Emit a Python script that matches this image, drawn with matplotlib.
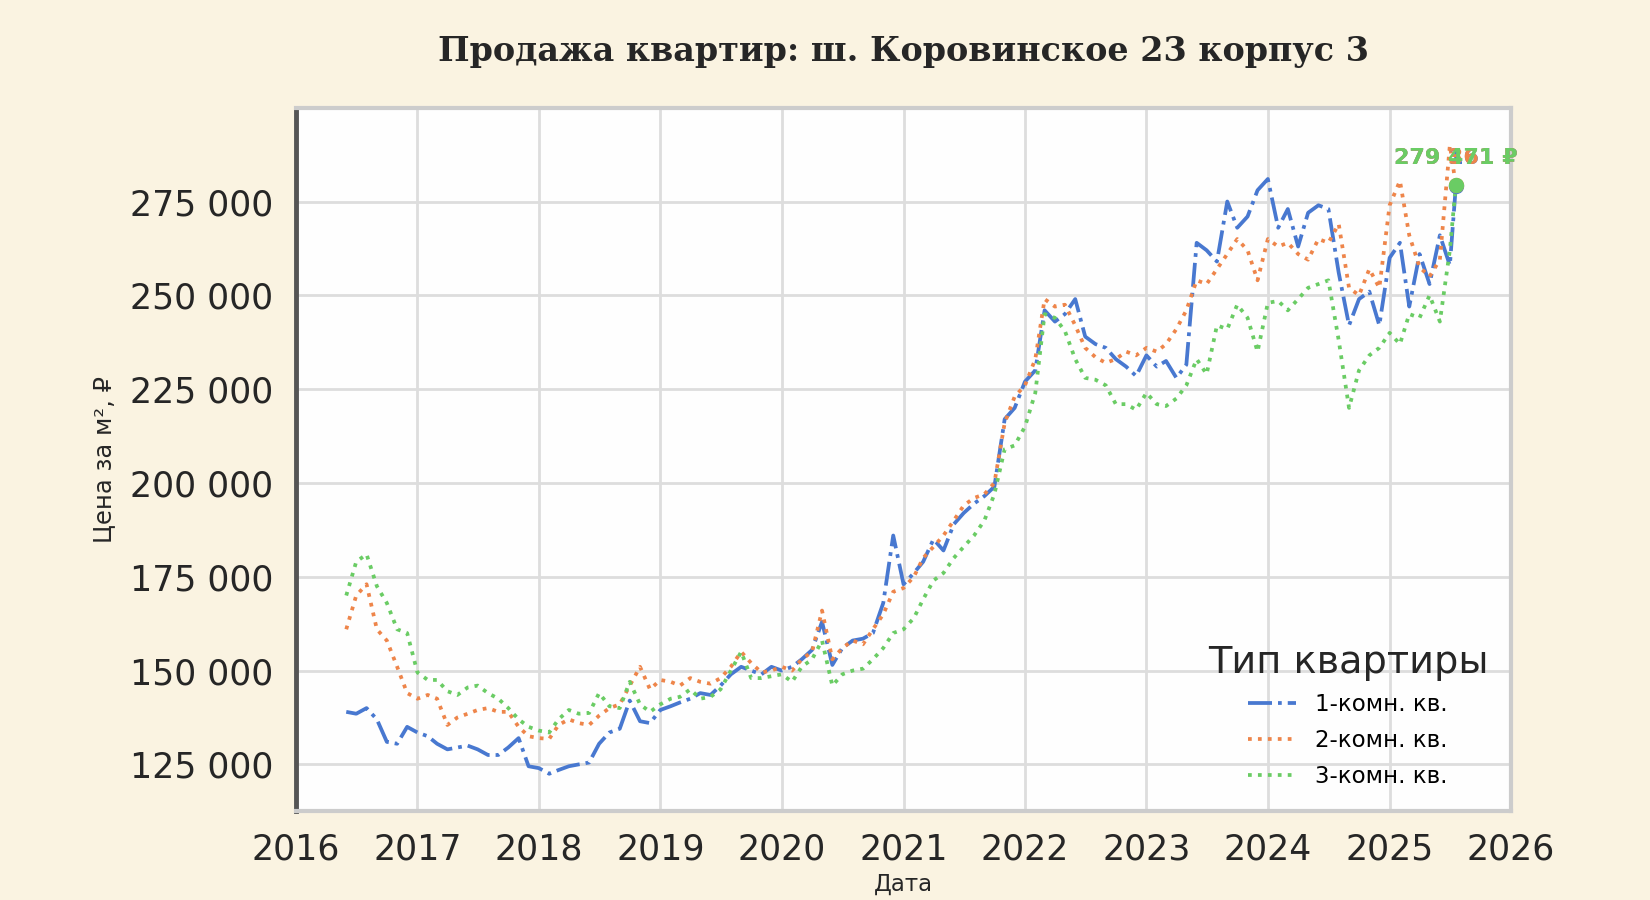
import numpy as np
import pandas as pd
import matplotlib
matplotlib.use("Agg")
import matplotlib.pyplot as plt
import matplotlib.dates as mdates
from matplotlib.ticker import FuncFormatter, MultipleLocator

# === Data (price per m2, thousands of rubles, monthly) ===

# months from Jun 2016 to Jul 2025, plus the last observation
months = list(pd.date_range("2016-06-01", "2025-07-01", freq="MS"))
last_day = pd.Timestamp("2025-07-19")

one_room = [
    139, 138.5, 140, 137, 131, 130.5, 135,                                 # 2016
    133.5, 132.5, 130.5, 129, 129.5, 130, 129, 127.5, 127.5, 129.5, 132, 124.5,  # 2017
    124, 122.5, 123.5, 124.5, 125, 125.5, 130.5, 133.5, 134.5, 142, 136.5, 136,  # 2018
    139.5, 140.5, 141.5, 142.5, 144, 143.5, 146, 149, 151, 150, 149, 151,  # 2019
    150, 151, 153, 155.5, 163, 151.5, 156, 158, 158.5, 160, 168, 186,      # 2020
    173, 176, 179, 185, 182, 189, 192, 194.5, 196.5, 199, 217, 220,        # 2021
    227, 230, 246, 243, 245, 249, 239, 237, 236, 233, 231, 228.5,          # 2022
    234, 231, 232.5, 228, 231.5, 264, 262, 259, 275, 268, 271, 278,        # 2023
    281, 268, 273, 263, 272, 274, 273, 256, 242, 249, 251, 242,            # 2024
    260, 264, 247, 261, 253, 266, 258,                                     # 2025
]
two_room = [
    161, 170, 173, 161, 158, 151, 144,
    142.5, 143.5, 142.5, 135.5, 137.5, 138.5, 139.5, 140, 139, 139, 135, 132.5,
    132, 131.8, 135.5, 137, 136, 135.5, 138, 140, 141, 146, 151, 145,
    147.5, 147, 146, 148, 147, 146.5, 148, 151, 155, 152, 149.5, 150,
    151, 150, 153, 155, 166, 153, 156, 158, 157, 161, 165, 171,
    172, 175, 180, 183, 186, 190, 194, 196, 197, 200, 216, 223,
    226, 233, 249, 247, 247.5, 242, 236, 233.5, 232, 233, 235, 234,
    236, 235, 237, 241, 246, 254, 253, 257, 261, 265, 262, 254,
    265, 263, 264, 261, 259.5, 265, 264, 269, 252, 250, 257, 252,
    274, 280.5, 266, 257.5, 255, 259.5, 290,
]
three_room = [
    170, 179, 181, 172.5, 168, 161, 160,
    149.5, 147.5, 147.5, 144.5, 143.5, 145.5, 146, 144, 142.5, 140, 137, 135,
    134, 133.5, 137, 139.5, 138.5, 138.7, 144, 140.5, 140, 147, 141, 139,
    141, 142.5, 143, 145, 142.5, 143, 145, 150, 155, 148, 148, 148.5,
    149, 147, 151, 153, 158, 146, 149, 150, 150.5, 153, 156, 160,
    161, 164, 169, 174, 176, 180, 183, 186, 190, 197, 209, 210,
    215, 224, 245, 244, 240.5, 233, 228, 227.5, 226, 221, 221, 219.5,
    224, 221, 220.5, 222.5, 226, 233, 229, 242, 241, 247.5, 244, 235,
    248, 248.5, 246, 249, 252, 253, 254, 238, 220, 230, 234, 236,
    240, 237, 245, 244, 250, 243, 262,
]
# last observed prices, rubles
last_prices = [279161, 279361, 279471]

labels = ["1-комн. кв.", "2-комн. кв.", "3-комн. кв."]
colors = ["#4878d0", "#ee854a", "#6acc64"]
styles = ["-.", ":", ":"]

# === Figure ===

fig = plt.figure(figsize=(16.5, 9), dpi=100, facecolor="#faf3e1")
ax = fig.add_axes([0.1792, 0.0994, 0.7366, 0.7801])
ax.set_facecolor("#fefefe")

dates = months + [last_day]
for series, last, lab, col, ls in zip([one_room, two_room, three_room],
                                       last_prices, labels, colors, styles):
    vals = np.array(series + [last / 1000.0]) * 1000
    ax.plot(dates, vals, linestyle=ls, color=col, lw=2.7, label=lab)

# end markers and value labels
top_last = max(last_prices)
for last, col in zip(last_prices, colors):
    ax.plot([last_day], [last], "o", color=col, ms=11, mec="none", zorder=5)
    txt = f"{last:,.0f}".replace(",", " ") + " ₽"
    ax.annotate(txt, (last_day, top_last), xytext=(0, 19), textcoords="offset points",
                ha="center", va="center", fontsize=16, fontweight="bold", color=col)

# axes limits and ticks
ax.set_xlim(pd.Timestamp("2016-01-01"), pd.Timestamp("2026-01-01"))
ax.set_ylim(112700, 299800)
ax.xaxis.set_major_locator(mdates.YearLocator())
ax.xaxis.set_major_formatter(mdates.DateFormatter("%Y"))
ax.yaxis.set_major_locator(MultipleLocator(25000))
ax.yaxis.set_major_formatter(FuncFormatter(lambda v, p: f"{v:,.0f}".replace(",", " ")))
ax.tick_params(axis="both", length=0, labelsize=25, labelcolor="#262626", pad=16)

ax.grid(True, color="#dddddd", lw=2)
ax.set_axisbelow(True)
for side in ["top", "right", "bottom"]:
    ax.spines[side].set_color("#cccccc")
    ax.spines[side].set_linewidth(3)
ax.spines["left"].set_color("#555555")
ax.spines["left"].set_linewidth(3.5)

ax.set_xlabel("Дата", fontsize=16.5, color="#262626", labelpad=4)
ax.set_ylabel("Цена за м², ₽", fontsize=17.5, color="#262626", labelpad=10)
ax.set_title("Продажа квартир: ш. Коровинское 23 корпус 3", fontsize=24,
             fontweight="bold", family="DejaVu Serif", color="#262626", pad=34)

leg = ax.legend(title="Тип квартиры", loc="lower right", frameon=False,
                fontsize=16.5, title_fontsize=27.5, handlelength=2.1,
                labelspacing=0.55, borderaxespad=0.6)
leg.get_title().set_color("#262626")

fig.savefig("out.png", dpi=100, facecolor=fig.get_facecolor())
